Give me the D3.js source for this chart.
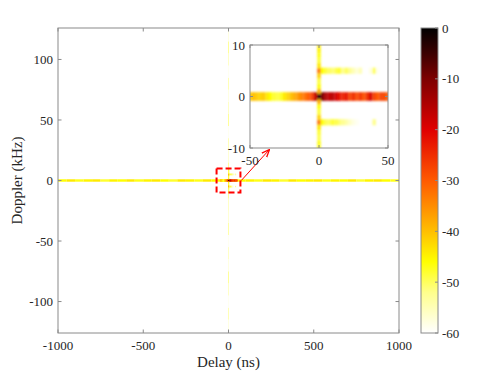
<!DOCTYPE html>
<html>
<head>
<meta charset="utf-8">
<script src="https://cdn.jsdelivr.net/npm/d3@7"></script>
<style>
  body { margin: 0; background: #fff; }
  text { font-family: "Liberation Serif", "Times New Roman", serif; fill: #262626; }
</style>
</head>
<body>
<div id="chart"></div>
<script>
// ---- data ----
const delayTicks = [-1000, -500, 0, 500, 1000];
const dopplerTicks = [-100, -50, 0, 50, 100];
const insetDelayTicks = [-50, 0, 50];
const insetDopplerTicks = [-10, 0, 10];
const cbarTicks = [0, -10, -20, -30, -40, -50, -60];

// colormap stops (dB -> colour)
const stopDb = [0, -5, -10, -20, -30, -40, -46, -52, -60];
const stopColors = ["#000000", "#3c0000", "#7d0000", "#e00000", "#ff5a00", "#ffbf00", "#ffff00", "#ffff8c", "#ffffff"];

// main plot: zero-Doppler ridge, 50 ns bins starting at -1000 ns
const mainRowDb = [-46, -44, -47, -45, -44, -48, -45, -46, -44, -47,
                   -45, -44, -46, -48, -44, -45, -47, -44, -46, -45,
                   -44, -46, -45, -47, -44, -45, -48, -44, -46, -45,
                   -44, -47, -45, -46, -44, -48, -45, -44, -46, -47];
// main plot: zero-delay ridge, 10 kHz bins starting at -125 kHz
const mainColDb = [-58, -55, -59, -56, -53, -58, -56, -59, -54, -57,
                   -56, -53, -50, -53, -57, -55, -59, -53, -56, -58,
                   -55, -59, -56, -53, -58];

// inset: zero-Doppler row, delay bins -50..50 step 2.5 ns
const zeroRowDb = [-41, -40, -41, -42, -41, -44, -46, -48, -49, -47,
                   -44, -42, -40, -38, -36, -34, -32, -30, -27, -17,
                   0, -10, -15, -17, -16, -19, -22, -24, -22, -27,
                   -25, -28, -26, -29, -25, -19, -27, -30, -27, -28, -30];
// inset: zero-delay column, Doppler bins -10..10 step 1 kHz (0 is in the row)
const zeroColDb = [-46, -47, -49, -48, -44, -32, -42, -48, -46, -38,
                   null, -38, -46, -48, -42, -32, -44, -48, -47, -45, -44];
// inset: side lobes at +5 / -5 kHz, delay bins 2.5..50 step 2.5 ns
const lobePlusDb = [-46, -48, -50, -51, -49, -48, -52, -50, -52, -55,
                    -57, -55, -60, -60, -58, -50, -59, -60, -60, -60];
const lobeMinusDb = [-46, -49, -50, -48, -49, -51, -52, -54, -56, -58,
                     -59, -60, -60, -60, -60, -52, -60, -60, -60, -60];

// ---- build cells ----
let cells = [];
zeroRowDb.forEach((v, i) => cells.push({d: -50 + i * 2.5, f: 0, w: 2.5, h: 1.7, v: v}));
zeroColDb.forEach((v, i) => { if (v !== null) cells.push({d: 0, f: -10 + i, w: 2.5, h: 1, v: v}); });
lobePlusDb.forEach((v, i) => cells.push({d: 2.5 + i * 2.5, f: 5, w: 2.5, h: 1.2, v: v}));
lobeMinusDb.forEach((v, i) => cells.push({d: 2.5 + i * 2.5, f: -5, w: 2.5, h: 1.2, v: v}));
cells = cells.filter(c => c.v > -60);
// main cells drawn under the fine ones
let mainCells = [];
mainRowDb.forEach((v, i) => mainCells.push({d: -1000 + 25 + i * 50, f: 0, w: 50, h: 2, v: v}));
mainColDb.forEach((v, i) => mainCells.push({d: 0, f: -120 + i * 10, w: 6, h: 10, v: v}));

const color = d3.scaleLinear().domain(stopDb).range(stopColors).clamp(true);

const W = 498, H = 374;
const svg = d3.select("#chart").append("svg").attr("width", W).attr("height", H);
const defs = svg.append("defs");

function blur(id, s) {
  defs.append("filter").attr("id", id)
    .attr("x", "-20%").attr("y", "-20%").attr("width", "140%").attr("height", "140%")
    .append("feGaussianBlur").attr("stdDeviation", s);
}
blur("blurMain", 0.5);
blur("blurInset", 1.0);

// ---- main axes ----
const main = {left: 58, right: 399, top: 28, bottom: 333};
const x = d3.scaleLinear().domain([-1000, 1000]).range([main.left, main.right]);
const y = d3.scaleLinear().domain([-126, 126]).range([main.bottom, main.top]);

defs.append("clipPath").attr("id", "clipMain").append("rect")
  .attr("x", main.left).attr("y", main.top)
  .attr("width", main.right - main.left).attr("height", main.bottom - main.top);

const heatMain = svg.append("g").attr("clip-path", "url(#clipMain)")
  .append("g").attr("filter", "url(#blurMain)");
heatMain.selectAll("rect.m").data(mainCells).join("rect").attr("class", "m")
  .attr("x", d => x(d.d - d.w / 2)).attr("width", d => x(d.w) - x(0))
  .attr("y", d => y(d.f + d.h / 2)).attr("height", d => y(0) - y(d.h))
  .attr("fill", d => color(d.v));
heatMain.selectAll("rect.f").data(cells).join("rect").attr("class", "f")
  .attr("x", d => x(d.d - d.w / 2)).attr("width", d => Math.max(1, x(d.w) - x(0)))
  .attr("y", d => y(d.f + d.h / 2)).attr("height", d => y(0) - y(d.h))
  .attr("fill", d => color(d.v));

function drawBox(g, xs, ys, xt, yt, tick) {
  const [x0, x1] = xs.range(), [y0, y1] = ys.range();
  g.append("rect").attr("x", x0).attr("y", y1).attr("width", x1 - x0).attr("height", y0 - y1)
    .attr("fill", "none").attr("stroke", "#8a8a8a").attr("stroke-width", 1);
  xt.forEach(t => {
    g.append("line").attr("x1", xs(t)).attr("x2", xs(t)).attr("y1", y0).attr("y2", y0 - tick).attr("stroke", "#8a8a8a");
    g.append("line").attr("x1", xs(t)).attr("x2", xs(t)).attr("y1", y1).attr("y2", y1 + tick).attr("stroke", "#8a8a8a");
    g.append("text").attr("x", xs(t)).attr("y", y0 + 17).attr("text-anchor", "middle")
      .attr("font-size", 13).text(t);
  });
  yt.forEach(t => {
    g.append("line").attr("x1", x0).attr("x2", x0 + tick).attr("y1", ys(t)).attr("y2", ys(t)).attr("stroke", "#8a8a8a");
    g.append("line").attr("x1", x1).attr("x2", x1 - tick).attr("y1", ys(t)).attr("y2", ys(t)).attr("stroke", "#8a8a8a");
    g.append("text").attr("x", x0 - 5).attr("y", ys(t)).attr("dy", "0.35em").attr("text-anchor", "end")
      .attr("font-size", 13).text(t);
  });
}
drawBox(svg.append("g"), x, y, delayTicks, dopplerTicks, 3.5);

svg.append("text").attr("x", (main.left + main.right) / 2).attr("y", 367)
  .attr("text-anchor", "middle").attr("font-size", 15).text("Delay (ns)");
svg.append("text").attr("transform", `translate(22,${y(0)}) rotate(-90)`)
  .attr("text-anchor", "middle").attr("font-size", 15).text("Doppler (kHz)");

// zoom rectangle + arrow
svg.append("rect").attr("x", x(-70)).attr("y", y(10)).attr("width", x(70) - x(-70)).attr("height", y(-10) - y(10))
  .attr("fill", "none").attr("stroke", "#ff0000").attr("stroke-width", 2).attr("stroke-dasharray", "6,3");
defs.append("marker").attr("id", "arrow").attr("viewBox", "0 0 10 10").attr("refX", 9).attr("refY", 5)
  .attr("markerWidth", 8).attr("markerHeight", 8).attr("orient", "auto").attr("markerUnits", "userSpaceOnUse")
  .append("path").attr("d", "M0,1 L10,5 L0,9").attr("fill", "none").attr("stroke", "#ff0000").attr("stroke-width", 1.6);
svg.append("line").attr("x1", x(75)).attr("y1", y(0)).attr("x2", 269).attr("y2", 150)
  .attr("stroke", "#ff0000").attr("stroke-width", 1).attr("marker-end", "url(#arrow)");

// ---- inset axes ----
const ins = {left: 250, right: 388, top: 45, bottom: 148};
const xi = d3.scaleLinear().domain([-50, 50]).range([ins.left, ins.right]);
const yi = d3.scaleLinear().domain([-10, 10]).range([ins.bottom, ins.top]);
svg.append("rect").attr("x", ins.left).attr("y", ins.top)
  .attr("width", ins.right - ins.left).attr("height", ins.bottom - ins.top).attr("fill", "#fff");
defs.append("clipPath").attr("id", "clipInset").append("rect")
  .attr("x", ins.left).attr("y", ins.top)
  .attr("width", ins.right - ins.left).attr("height", ins.bottom - ins.top);
const heatInset = svg.append("g").attr("clip-path", "url(#clipInset)")
  .append("g").attr("filter", "url(#blurInset)");
heatInset.selectAll("rect").data(cells).join("rect")
  .attr("x", d => xi(d.d - d.w / 2)).attr("width", d => xi(d.w) - xi(0))
  .attr("y", d => yi(d.f + d.h / 2)).attr("height", d => yi(0) - yi(d.h))
  .attr("fill", d => color(d.v));
drawBox(svg.append("g"), xi, yi, insetDelayTicks, insetDopplerTicks, 3);

// ---- colour bar ----
const cb = {left: 421, right: 438, top: 28, bottom: 333};
const yc = d3.scaleLinear().domain([-60, 0]).range([cb.bottom, cb.top]);
const grad = defs.append("linearGradient").attr("id", "cbGrad")
  .attr("x1", 0).attr("y1", 1).attr("x2", 0).attr("y2", 0);
grad.selectAll("stop").data(stopDb.slice().reverse()).join("stop")
  .attr("offset", d => (d + 60) / 60).attr("stop-color", d => color(d));
svg.append("rect").attr("x", cb.left).attr("y", cb.top).attr("width", cb.right - cb.left)
  .attr("height", cb.bottom - cb.top).attr("fill", "url(#cbGrad)")
  .attr("stroke", "#8a8a8a").attr("stroke-width", 1);
cbarTicks.forEach(t => {
  svg.append("line").attr("x1", cb.right).attr("x2", cb.right - 3).attr("y1", yc(t)).attr("y2", yc(t)).attr("stroke", "#8a8a8a");
  svg.append("text").attr("x", cb.right + 4).attr("y", yc(t)).attr("dy", "0.35em")
    .attr("font-size", 13).text(t);
});
</script>
</body>
</html>
